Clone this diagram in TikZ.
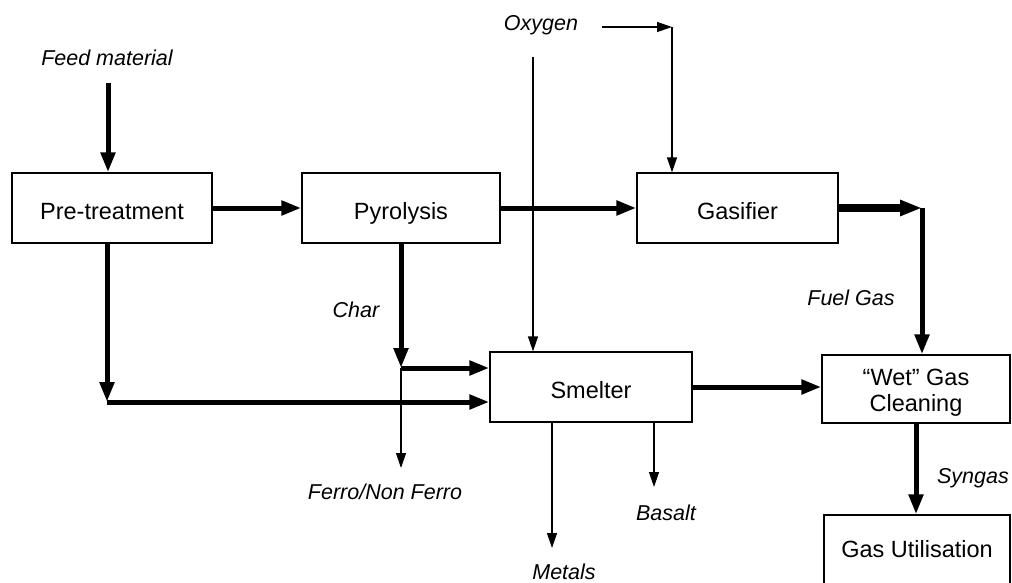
\documentclass[tikz,border=0pt]{standalone}
\usepackage{fontspec}
\setmainfont{Liberation Sans}
\usetikzlibrary{arrows.meta}
\begin{document}
\begin{tikzpicture}[x=1pt,y=-1pt,
  box/.style={draw,line width=1.3pt,rectangle,inner sep=0pt,font=\fontsize{23.5}{27}\selectfont,align=center},
  one/.style={text height=22pt,text depth=0pt},
  lbl/.style={inner sep=0pt,font=\fontsize{21.5}{25}\selectfont\itshape},
  thn/.style={line width=1.3pt,-{Triangle[length=15pt,width=10pt]}},
  thk/.style={line width=5pt,-{Triangle[length=20pt,width=14pt]}},
  vthk/.style={line width=7.5pt,-{Triangle[length=22pt,width=15pt]}}]
\useasboundingbox (0,0) rectangle (1012,583);
% boxes
\node[box,one,minimum width=200pt,minimum height=70pt] (pre) at (112,208) {Pre-treatment};
\node[box,one,minimum width=198pt,minimum height=70pt] (pyr) at (401,208) {Pyrolysis};
\node[box,one,minimum width=201pt,minimum height=70pt] (gas) at (737.5,208) {Gasifier};
\node[box,one,minimum width=202pt,minimum height=70pt] (sme) at (591,387) {Smelter};
\node[box,minimum width=188pt,minimum height=68pt] (wet) at (916,389) {};
\node[inner sep=0pt,font=\fontsize{23.5}{27}\selectfont,align=center,anchor=base] (wett) at (916,411) {“Wet” Gas\\[-1pt]Cleaning};
\node[box,minimum width=186pt,minimum height=75pt] (gu) at (917,552.5) {};
\node[inner sep=0pt,font=\fontsize{23.5}{27}\selectfont,anchor=base] (gut) at (917,557) {Gas Utilisation};
% labels
\node[lbl] (feed) at (107,58) {Feed material};
\node[lbl] (oxy) at (541,25) {Oxygen};
\node[lbl] (char) at (356,310) {Char};
\node[lbl] (fuel) at (851,298) {Fuel Gas};
\node[lbl] (syn) at (973,478) {Syngas};
\node[lbl] (ferro) at (385,492) {Ferro/Non Ferro};
\node[lbl] (bas) at (666,513) {Basalt};
\node[lbl] (metl) at (564,572) {Metals};
% coordinates
\coordinate (feedtop) at (108,83);
\coordinate (oxs) at (602,27);
\coordinate (oxr) at (672,27);
\coordinate (oxd) at (533,57);
\coordinate (fg) at (922,208);
\coordinate (pd) at (107,402);
\coordinate (cj) at (401,368);
\coordinate (fe) at (401,468);
\coordinate (met) at (552,548);
\coordinate (bs) at (654,487);
% connectors
\draw[thk] (feedtop) -- (feedtop |- pre.north);
\draw[thk] (pre.east) -- (pyr.west);
\draw[thk] (pyr.east) -- (gas.west);
\draw[vthk] (gas.east) -- (fg);
\draw[thk] (fg) -- (fg |- wet.north);
\draw[thn] (oxs) -- (oxr);
\draw[thn] (oxr) -- (oxr |- gas.north);
\draw[thn] (oxd) -- (oxd |- sme.north);
\draw[thk] ([xshift=-5pt]pre.south) -- (pd);
\draw[thk] (pd) -- (pd -| sme.west);
\draw[thk] (pyr.south) -- (cj);
\draw[thk] (cj) -- (cj -| sme.west);
\draw[thn] (cj) -- (fe);
\draw[thk] (sme.east) -- (sme.east -| wet.west);
\draw[thn] (met |- sme.south) -- (met);
\draw[thn] (bs |- sme.south) -- (bs);
\draw[thk] (wet.south) -- (wet.south |- gu.north);
\end{tikzpicture}
\end{document}
